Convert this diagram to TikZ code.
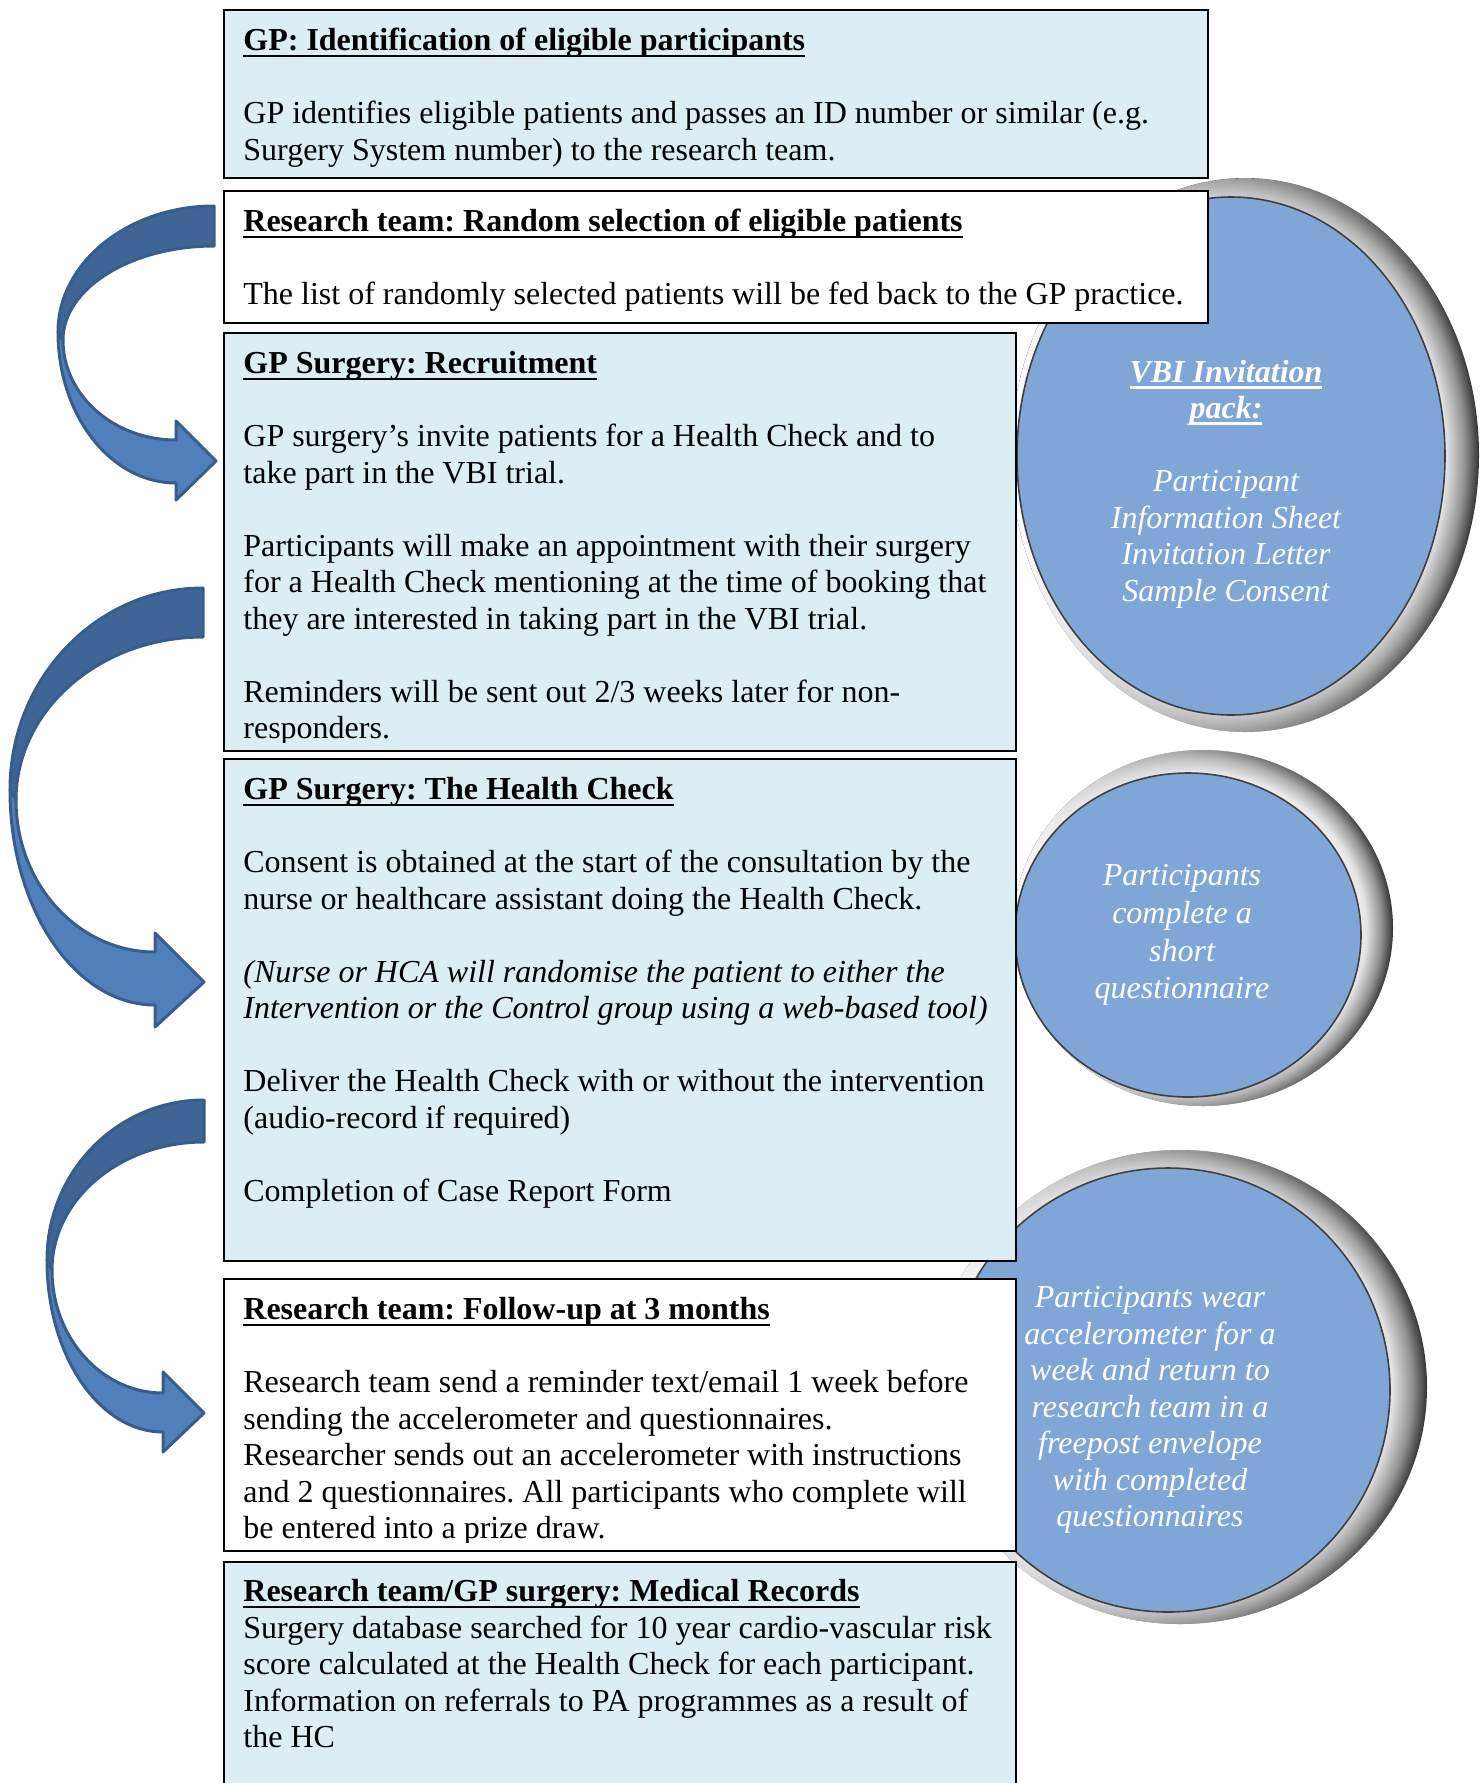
\documentclass[tikz,border=0pt]{standalone}
\usepackage{fontspec}
\setmainfont{Liberation Serif}
\usetikzlibrary{shapes.geometric,fadings}
\definecolor{paleblue}{RGB}{218,238,243}
\definecolor{discblue}{RGB}{128,166,216}
\definecolor{darkband}{RGB}{63,101,150}
\definecolor{lightband}{RGB}{79,128,188}
\definecolor{bandline}{RGB}{56,93,138}
\pgfdeclareradialshading{rimshade}{\pgfpoint{0bp}{0bp}}{color(0bp)=(white);
  color(19bp)=(white); color(21.5bp)=(black!12); color(23.5bp)=(black!45);
  color(25bp)=(black!80); color(50bp)=(black!80)}
\tikzset{%
  stage/.style     = {draw, line width=1.1pt, rectangle, anchor=north west,
    inner sep=0pt}, % Text box
  stagetxt/.style  = {anchor=north west, inner sep=0pt, align=left}, % Box text
  rim/.style       = {ellipse, inner sep=0pt, shade, shading=rimshade}, % Silver bevel
  gloss/.style     = {ellipse, inner sep=0pt, fill=white, path fading=east}, % Light on the left
  disc/.style      = {ellipse, inner sep=0pt, fill=discblue, draw=black!75,
    line width=0.8pt}, % Blue disc
  disctxt/.style   = {text=white, align=center, inner sep=0pt,
    font=\fontsize{16}{18.25}\selectfont\itshape}, % Disc text
  backband/.style  = {fill=darkband, draw=bandline, line width=1.5pt,
    line join=round}, % Back of arrow
  frontband/.style = {fill=lightband, draw=bandline, line width=1.5pt,
    line join=round} % Front of arrow
}
\newsavebox{\ulsave}
\newcommand{\uln}[1]{\sbox{\ulsave}{#1}%
  \rlap{\vrule height -1.8pt depth 3.2pt width \wd\ulsave}\usebox{\ulsave}}
\newcommand{\ttl}[1]{\uln{\textbf{#1}}}
\newcommand{\blank}{\\[18.25pt]}
\frenchspacing

\begin{document}
\begin{tikzpicture}[x=0.5pt, y=-0.5pt, font=\fontsize{16}{18.25}\selectfont]
\useasboundingbox (0,0) rectangle (1479,1783);
	% Drawing the discs on the right :
\draw
	node at (1245,455) [rim, minimum width=234pt, minimum height=277pt] (rim1) {}
	node at (1245,455) [gloss, minimum width=234pt, minimum height=277pt] (gloss1) {}
	node at (1231,456) [disc, minimum width=214pt, minimum height=259pt] (disc1) {}
	node at (1203,928) [rim, minimum width=190pt, minimum height=178pt] (rim2) {}
	node at (1203,928) [gloss, minimum width=190pt, minimum height=178pt] (gloss2) {}
	node at (1188,935) [disc, minimum width=173pt, minimum height=162pt] (disc2) {}
	node at (1180,1387) [rim, minimum width=247pt, minimum height=237pt] (rim3) {}
	node at (1180,1387) [gloss, minimum width=247pt, minimum height=237pt] (gloss3) {}
	node at (1168,1390) [disc, minimum width=222pt, minimum height=222pt] (disc3) {};
	% Texts of the discs
\draw
	node at ([shift={(-5,28)}]disc1.center) [disctxt] (pack1)
		{\uln{\textbf{VBI Invitation}}\\\uln{\textbf{pack:}}\blank
		Participant\\Information Sheet\\Invitation Letter\\Sample Consent}
	node at ([shift={(-6,0)}]disc2.center) [disctxt,
		font=\fontsize{16}{18.8}\selectfont\itshape] (quest2)
		{Participants\\complete a\\short\\questionnaire}
	node at ([shift={(-18,20)}]disc3.center) [disctxt] (accel3)
		{Participants wear\\accelerometer for a\\week and return to\\research team in a\\freepost envelope\\with completed\\questionnaires};
	% Drawing the boxes of the flow :
\draw
	node at (223,9) [stage, fill=paleblue, minimum width=492pt, minimum height=84pt] (ident1) {}
	node at (223,190) [stage, fill=white, minimum width=492pt, minimum height=66pt] (selec2) {}
	node at (223,332) [stage, fill=paleblue, minimum width=396pt, minimum height=209pt] (recru3) {}
	node at (223,758) [stage, fill=paleblue, minimum width=396pt, minimum height=251pt] (check4) {}
	node at (223,1278) [stage, fill=white, minimum width=396pt, minimum height=136pt] (follow5) {}
	node at (223,1561) [stage, fill=paleblue, minimum width=396pt, minimum height=125pt] (record6) {};
	% Texts of the boxes
\node[stagetxt] (ident1t) at ([shift={(20,16)}]ident1.north west)
	{\strut\ttl{GP: Identification of eligible participants}\blank
	GP identifies eligible patients and passes an ID number or similar (e.g.\\
	Surgery System number) to the research team.};
\node[stagetxt] (selec2t) at ([shift={(20,16)}]selec2.north west)
	{\strut\ttl{Research team: Random selection of eligible patients}\blank
	The list of randomly selected patients will be fed back to the GP practice.};
\begin{scope}
	\clip (recru3.north west) rectangle ([shift={(0,-10)}]recru3.south east);
	\node[stagetxt] (recru3t) at ([shift={(20,16)}]recru3.north west)
		{\strut\ttl{GP Surgery: Recruitment}\blank
		GP surgery’s invite patients for a Health Check and to\\
		take part in the VBI trial.\blank
		Participants will make an appointment with their surgery\\
		for a Health Check mentioning at the time of booking that\\
		they are interested in taking part in the VBI trial.\blank
		Reminders will be sent out 2/3 weeks later for non-\\
		responders.};
\end{scope}
\node[stagetxt] (check4t) at ([shift={(20,16)}]check4.north west)
	{\strut\ttl{GP Surgery: The Health Check}\blank
	Consent is obtained at the start of the consultation by the\\
	nurse or healthcare assistant doing the Health Check.\blank
	\textit{(Nurse or HCA will randomise the patient to either the}\\
	\textit{Intervention or the Control group using a web-based tool)}\blank
	Deliver the Health Check with or without the intervention\\
	(audio-record if required)\blank
	Completion of Case Report Form};
\begin{scope}
	\clip (follow5.north west) rectangle ([shift={(0,-10)}]follow5.south east);
	\node[stagetxt] (follow5t) at ([shift={(20,16)}]follow5.north west)
		{\strut\ttl{Research team: Follow-up at 3 months}\blank
		Research team send a reminder text/email 1 week before\\
		sending the accelerometer and questionnaires.\\
		Researcher sends out an accelerometer with instructions\\
		and 2 questionnaires. All participants who complete will\\
		be entered into a prize draw.};
\end{scope}
\node[stagetxt] (record6t) at ([shift={(20,15)}]record6.north west)
	{\strut\ttl{Research team/GP surgery: Medical Records}\\
	Surgery database searched for 10 year cardio-vascular risk\\
	score calculated at the Health Check for each participant.\\
	Information on referrals to PA programmes as a result of\\
	the HC};
	% Curved arrows on the left (back part, then front part with head)
\draw[backband] (214,206) .. controls (128.7,206) and (58,262.4) .. (58,332)
	-- (63,340) .. controls (63,288.1) and (131.5,246) .. (214,246) -- cycle;
\draw[frontband] (58,332) .. controls (58,415.4) and (110.8,483) .. (176,483)
	-- (176,500) -- (216,461) -- (176,421) -- (176,440)
	.. controls (113.6,440) and (63,395.2) .. (63,340) -- cycle;
\draw[backband] (203,588) .. controls (96.4,588) and (10,678.4) .. (10,790)
	-- (16,800) .. controls (16,710) and (99.7,637) .. (203,637) -- cycle;
\draw[frontband] (10,790) .. controls (10,908.7) and (74.9,1005) .. (155,1005)
	-- (155,1027) -- (204,982) -- (155,933) -- (155,952)
	.. controls (78.2,952) and (16,884) .. (16,800) -- cycle;
\draw[backband] (204,1100) .. controls (117.3,1100) and (47,1171.6) .. (47,1260)
	-- (52,1270) .. controls (52,1199.3) and (120.1,1142) .. (204,1142) -- cycle;
\draw[frontband] (47,1260) .. controls (47,1355) and (98.9,1432) .. (163,1432)
	-- (163,1452) -- (204,1413) -- (163,1372) -- (163,1393)
	.. controls (101.7,1393) and (52,1337.9) .. (52,1270) -- cycle;
\end{tikzpicture}
\end{document}
